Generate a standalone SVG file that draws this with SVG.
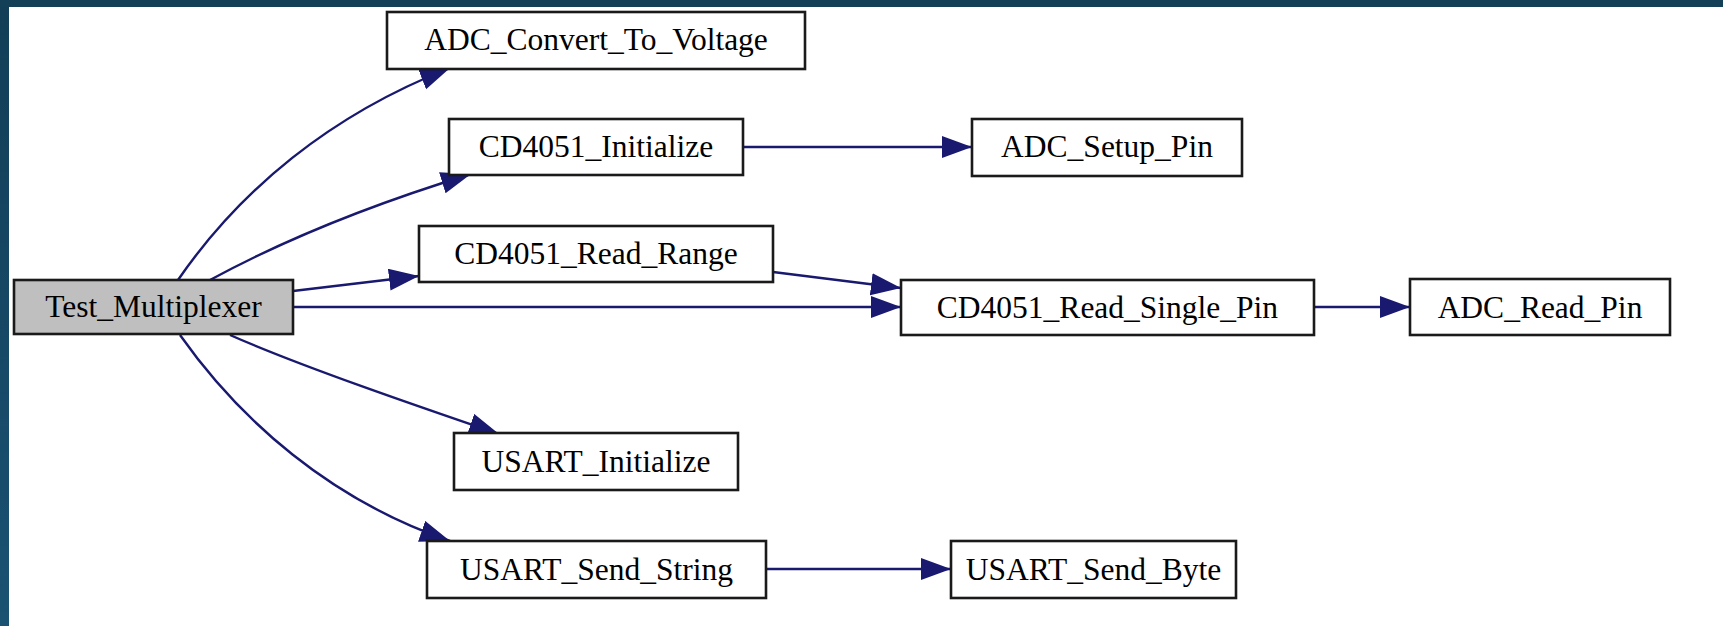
<svg xmlns="http://www.w3.org/2000/svg" width="1723" height="626" viewBox="0 0 1723 626">
  <defs>
    <linearGradient id="sideBand" x1="0" y1="0" x2="0" y2="1">
      <stop offset="0" stop-color="#123e57"/>
      <stop offset="1" stop-color="#1a5272"/>
    </linearGradient>
    <marker id="arrow" markerUnits="userSpaceOnUse" markerWidth="32" markerHeight="24" refX="30" refY="11" orient="auto">
      <path d="M0,0 L30,11 L0,22 Z" fill="#191970"/>
    </marker>
    <style>
      .node rect { fill: #ffffff; stroke: #1a1a1a; stroke-width: 2.6; }
      .node.root rect { fill: #bfbfbf; }
      .node text { font-family: "Liberation Serif", "Times New Roman", serif; font-size: 31.5px; fill: #000000; text-anchor: middle; }
      .edges path { fill: none; stroke: #191970; stroke-width: 2.4; marker-end: url(#arrow); }
    </style>
  </defs>

  <!-- page background and frame -->
  <rect x="0" y="0" width="1723" height="626" fill="#ffffff"/>
  <rect x="0" y="0" width="9" height="626" fill="url(#sideBand)"/>
  <rect x="0" y="0" width="1723" height="7" fill="#133f57"/>

  <!-- call edges -->
  <g id="edges" class="edges">
    <path d="M178,280 C240,190 330,115 450,68"/>
    <path d="M210,280 C280,242 370,205 471,174"/>
    <path d="M293,291 L419,276"/>
    <path d="M293,307 L901,307"/>
    <path d="M230,335 C300,366 420,407 499,434"/>
    <path d="M180,335 C240,420 330,500 450,541"/>
    <path d="M743,147 L972,147"/>
    <path d="M773,272 L901,288"/>
    <path d="M1314,307 L1410,307"/>
    <path d="M766,569 L951,569"/>
  </g>

  <!-- function nodes -->
  <g id="node-test-multiplexer" class="node root">
    <rect x="14" y="280" width="279" height="54"/>
    <text x="153.5" y="317">Test_Multiplexer</text>
  </g>
  <g id="node-adc-convert-to-voltage" class="node">
    <rect x="387" y="12" width="418" height="57"/>
    <text x="596" y="50">ADC_Convert_To_Voltage</text>
  </g>
  <g id="node-cd4051-initialize" class="node">
    <rect x="449" y="119" width="294" height="56"/>
    <text x="596" y="157">CD4051_Initialize</text>
  </g>
  <g id="node-adc-setup-pin" class="node">
    <rect x="972" y="119" width="270" height="57"/>
    <text x="1107" y="157">ADC_Setup_Pin</text>
  </g>
  <g id="node-cd4051-read-range" class="node">
    <rect x="419" y="226" width="354" height="56"/>
    <text x="596" y="264">CD4051_Read_Range</text>
  </g>
  <g id="node-cd4051-read-single-pin" class="node">
    <rect x="901" y="280" width="413" height="55"/>
    <text x="1107.5" y="318">CD4051_Read_Single_Pin</text>
  </g>
  <g id="node-adc-read-pin" class="node">
    <rect x="1410" y="279" width="260" height="56"/>
    <text x="1540" y="318">ADC_Read_Pin</text>
  </g>
  <g id="node-usart-initialize" class="node">
    <rect x="454" y="433" width="284" height="57"/>
    <text x="596" y="472">USART_Initialize</text>
  </g>
  <g id="node-usart-send-string" class="node">
    <rect x="427" y="541" width="339" height="57"/>
    <text x="596.5" y="580">USART_Send_String</text>
  </g>
  <g id="node-usart-send-byte" class="node">
    <rect x="951" y="541" width="285" height="57"/>
    <text x="1093.5" y="580">USART_Send_Byte</text>
  </g>
</svg>
